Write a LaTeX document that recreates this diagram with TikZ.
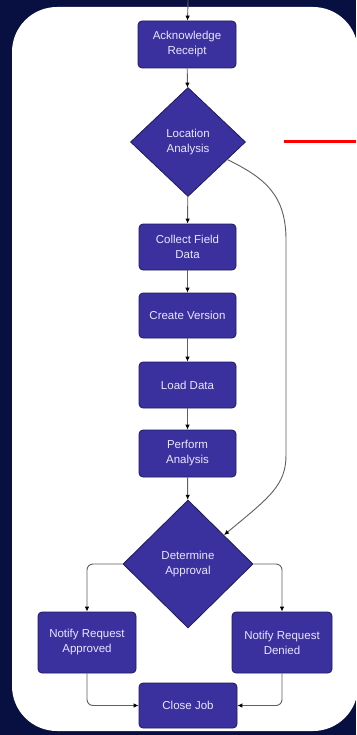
\documentclass[tikz,border=0pt]{standalone}
\usepackage{fontspec}
\setmainfont{Liberation Sans}
\usetikzlibrary{shapes.geometric,arrows.meta,calc}
\definecolor{bgnavy}{RGB}{8,16,66}
\definecolor{boxfill}{RGB}{58,48,158}
\definecolor{boxline}{RGB}{30,26,90}
\definecolor{txt}{RGB}{232,232,255}
\definecolor{conn}{RGB}{95,95,95}
\tikzset{
  stepbox/.style={draw=boxline, line width=0.8pt, fill=boxfill, rounded corners=4pt,
    text=txt, align=center, inner sep=0pt, font=\fontsize{11.5}{15}\selectfont},
  decide/.style={diamond, draw=boxline, line width=0.8pt, fill=boxfill, text=txt,
    align=center, inner sep=0pt, font=\fontsize{11.5}{15}\selectfont},
  conn/.style={draw=conn, line width=0.9pt, -{Latex[length=5pt,width=4.5pt,color=black]}},
}
\begin{document}
\begin{tikzpicture}[x=1pt,y=-1pt]
\useasboundingbox (0,0) rectangle (356,735);
\fill[bgnavy] (0,0) rectangle (356,735);
\fill[white, rounded corners=45pt] (12,7) rectangle (358,731);
% red marker
\draw[red, line width=3pt] (284,142) -- (356,142);
% nodes
\coordinate (start) at (188,0);
\node[stepbox, minimum width=98pt, minimum height=47pt] (ack) at (187,44.5) {Acknowledge\\Receipt};
\node[decide, minimum width=115pt, minimum height=109pt] (loc) at (188,142) {Location\\Analysis};
\node[stepbox, minimum width=97pt, minimum height=46pt] (collect) at (187.5,247) {Collect Field\\Data};
\node[stepbox, minimum width=97pt, minimum height=45pt] (create) at (187.5,315.5) {Create Version};
\node[stepbox, minimum width=97pt, minimum height=46pt] (load) at (187.5,385) {Load Data};
\node[stepbox, minimum width=97pt, minimum height=47pt] (perform) at (187.5,453.5) {Perform\\Analysis};
\node[decide, minimum width=130pt, minimum height=128pt] (appr) at (188,564) {Determine\\Approval};
\node[stepbox, minimum width=98pt, minimum height=61pt] (nra) at (87,642.5) {Notify Request\\Approved};
\node[stepbox, minimum width=100pt, minimum height=61pt] (nrd) at (282,642.5) {Notify Request\\Denied};
\node[stepbox, minimum width=98pt, minimum height=45pt] (close) at (188,705.5) {Close Job};
% connectors
\draw[conn] (start) -- (ack);
\draw[conn] (ack) -- (loc);
\draw[conn] (loc) -- (collect);
\draw[conn] (collect) -- (create);
\draw[conn] (create) -- (load);
\draw[conn] (load) -- (perform);
\draw[conn] (perform) -- (appr);
\coordinate (locout) at ($(loc.east)!0.32!(loc.south)$);
\coordinate (apprin) at ($(appr.east)!0.45!(appr.north)$);
\draw[conn] (locout) .. controls (265,178) and (286,195) .. (286,240)
  -- (286,455) .. controls (286,485) and (270,497) .. (apprin);
\draw[conn, rounded corners=6pt] (appr.west) -| (nra.north);
\draw[conn, rounded corners=6pt] (appr.east) -| (nrd.north);
\draw[conn, rounded corners=6pt] (nra.south) |- (close.west);
\draw[conn, rounded corners=6pt] (nrd.south) |- (close.east);
\end{tikzpicture}
\end{document}
